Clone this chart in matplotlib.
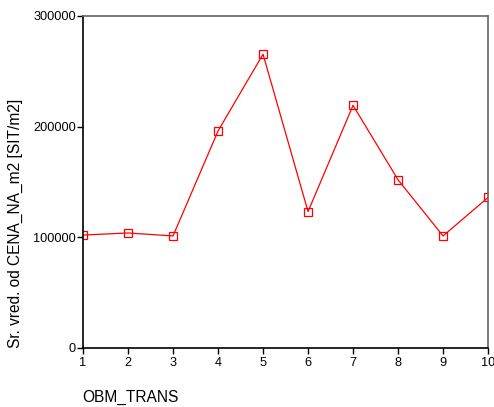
import matplotlib
matplotlib.use("Agg")
import matplotlib.pyplot as plt

plt.rcParams['font.family'] = ['Liberation Sans', 'DejaVu Sans']

obm_trans = [1, 2, 3, 4, 5, 6, 7, 8, 9, 10]
cena = [102000, 103900, 101200, 196000, 265400, 123200, 219200, 151900, 101200, 136000]

fig = plt.figure(figsize=(4.94, 4.07), dpi=100)
ax = fig.add_axes([0.168, 0.145, 0.82, 0.816])

ax.plot(obm_trans, cena, color='red', linewidth=0.9, marker='s', markersize=5.5,
        markerfacecolor='none', markeredgecolor='red', markeredgewidth=0.9)

ax.set_xlim(1, 10)
ax.set_ylim(0, 300000)
ax.set_xticks(obm_trans)
ax.set_yticks([0, 100000, 200000, 300000])
ax.set_yticklabels(['0', '100000', '200000', '300000'])

for s in ['left', 'bottom']:
    ax.spines[s].set_color('black')
    ax.spines[s].set_linewidth(1.2)
for s in ['top', 'right']:
    ax.spines[s].set_color('#666666')
    ax.spines[s].set_linewidth(1.2)

ax.tick_params(direction='out', length=4, width=1, labelsize=9.2, colors='black', pad=1)
ax.tick_params(axis='x', pad=2.5)

fig.text(0.166, 0.012, 'OBM_TRANS', fontsize=11.2, ha='left', va='baseline')
fig.text(0.031, 0.452, 'Sr. vred. od CENA_NA_m2 [SIT/m2]', fontsize=11.2,
         rotation=90, ha='center', va='center')

fig.savefig('out.png', dpi=100)
